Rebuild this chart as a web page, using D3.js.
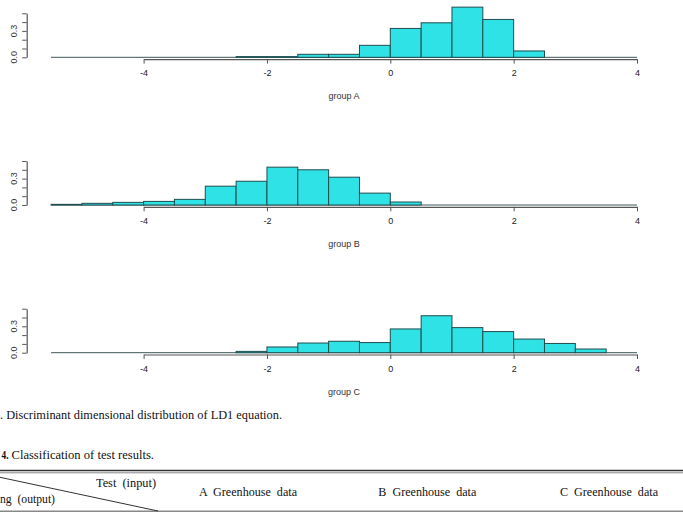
<!DOCTYPE html>
<html>
<head>
<meta charset="utf-8">
<script src="https://cdn.jsdelivr.net/npm/d3@7"></script>
<style>
  body { margin: 0; background: #fff; }
  svg { display: block; }
</style>
</head>
<body>
<svg class="ldaHists" width="683" height="516"></svg>
<script>
// left edges of the histogram bins (width 0.5)
const binLefts = [-5.5, -5, -4.5, -4, -3.5, -3, -2.5, -2, -1.5, -1, -0.5, 0, 0.5, 1, 1.5, 2, 2.5, 3, 3.5];
const binWidth = 0.5;

// densities
const densA = [0, 0, 0, 0, 0, 0, 0.008, 0.008, 0.034, 0.034, 0.136, 0.328, 0.392, 0.57, 0.43, 0.072, 0, 0, 0];
const densB = [0.0075, 0.019, 0.03, 0.041, 0.064, 0.214, 0.27, 0.43, 0.40, 0.316, 0.135, 0.034, 0, 0, 0, 0, 0, 0, 0];
const densC = [0, 0, 0, 0, 0, 0, 0.015, 0.065, 0.11, 0.13, 0.115, 0.27, 0.42, 0.285, 0.24, 0.155, 0.105, 0.042, 0];

const groupNames = ['group A', 'group B', 'group C'];
const xTicks = [-4, -2, 0, 2, 4];
const yTicks = [0, 0.1, 0.2, 0.3, 0.4, 0.5];
const yLabelled = [0, 0.3];

const captionFig = '. Discriminant dimensional distribution of LD1 equation.';
const captionTabNum = '4.';
const captionTab = 'Classification of test results.';
const tableCols = ['A  Greenhouse  data', 'B  Greenhouse  data', 'C  Greenhouse  data'];
const cornerTop = 'Test  (input)';
const cornerBottom = 'ng  (output)';

const svg = d3.select('svg.ldaHists');

const x = d3.scaleLinear()
            .domain([-4, 4])
            .range([143.6, 637]);

const baselines = [57.3, 205, 352.7];
const panelH = 44;

const fillCol = '#2fe2e5',
      edgeCol = '#1f4d4f',
      axisCol = '#555';

function drawPanel(dens, name, base){
  const y = d3.scaleLinear()
              .domain([0, 0.5])
              .range([base, base - panelH]);

  const g = svg.append('g');

  // x axis, just under the bars
  const xa = g.append('g')
    .attr('transform', `translate(0, ${base + 1.8})`)
    .call(d3.axisBottom(x).tickValues(xTicks).tickSize(4.5).tickSizeOuter(0));
  xa.select('.domain').attr('stroke', axisCol).attr('stroke-width', 1.2);
  xa.selectAll('line').attr('stroke', axisCol);
  xa.selectAll('text')
    .attr('y', 11)
    .attr('fill', '#222')
    .style('font-family', "'Liberation Sans', Arial, sans-serif")
    .style('font-size', '9px')
    .text(d => d < 0 ? '-' + Math.abs(d) : d);

  // zero-height bins still leave their bottom edge
  g.append('line')
    .attr('x1', x(binLefts[0]))
    .attr('x2', x(binLefts[binLefts.length - 1] + binWidth))
    .attr('y1', y(0))
    .attr('y2', y(0))
    .attr('stroke', '#3d5556')
    .attr('stroke-width', 1);

  g.selectAll('rect')
    .data(dens.map((d, i) => ({d, i})).filter(o => o.d > 0))
    .enter()
    .append('rect')
      .attr('x', o => x(binLefts[o.i]))
      .attr('y', o => y(o.d))
      .attr('width', o => x(binLefts[o.i] + binWidth) - x(binLefts[o.i]))
      .attr('height', o => y(0) - y(o.d))
      .style('fill', fillCol)
      .style('stroke', edgeCol)
      .style('stroke-width', 1);

  // y axis on the left
  const ya = g.append('g')
    .attr('transform', 'translate(26.7, 0)')
    .call(d3.axisLeft(y).tickValues(yTicks).tickSize(4.5).tickSizeOuter(0).tickFormat(''));
  ya.select('.domain').attr('stroke', axisCol).attr('stroke-width', 1.2);
  ya.selectAll('line').attr('stroke', axisCol);

  g.selectAll('text.ylab')
    .data(yLabelled)
    .enter()
    .append('text')
      .attr('class', 'ylab')
      .attr('transform', d => `translate(16.5, ${y(d)}) rotate(-90)`)
      .attr('text-anchor', 'middle')
      .attr('fill', '#333')
      .style('font-family', "'Liberation Sans', Arial, sans-serif")
      .style('font-size', '9px')
      .text(d => d.toFixed(1));

  g.append('text')
    .attr('x', x(-0.75))
    .attr('y', base + 42)
    .attr('text-anchor', 'middle')
    .attr('fill', '#333')
    .style('font-family', "'Liberation Sans', Arial, sans-serif")
    .style('font-size', '9px')
    .text(name);
}

drawPanel(densA, groupNames[0], baselines[0]);
drawPanel(densB, groupNames[1], baselines[1]);
drawPanel(densC, groupNames[2], baselines[2]);

// captions and table header below the figure
const serif = "'Liberation Serif', 'Times New Roman', serif";

svg.append('text')
  .attr('x', 0)
  .attr('y', 419)
  .attr('textLength', 282)
  .attr('lengthAdjust', 'spacingAndGlyphs')
  .style('font-family', serif)
  .style('font-size', '13px')
  .attr('fill', '#111')
  .text(captionFig);

svg.append('text')
  .attr('x', 1.5)
  .attr('y', 459)
  .attr('textLength', 7)
  .attr('lengthAdjust', 'spacingAndGlyphs')
  .style('font-family', serif)
  .style('font-size', '13px')
  .style('font-weight', 'bold')
  .attr('fill', '#111')
  .text(captionTabNum);
svg.append('text')
  .attr('x', 11.5)
  .attr('y', 459)
  .attr('textLength', 142.5)
  .attr('lengthAdjust', 'spacingAndGlyphs')
  .style('font-family', serif)
  .style('font-size', '13px')
  .attr('fill', '#111')
  .text(captionTab);

svg.append('line')
  .attr('x1', 0).attr('x2', 683).attr('y1', 470.5).attr('y2', 470.5)
  .attr('stroke', '#333').attr('stroke-width', 1.3);
svg.append('line')
  .attr('x1', 0).attr('x2', 683).attr('y1', 472.8).attr('y2', 472.8)
  .attr('stroke', '#888').attr('stroke-width', 1);
svg.append('line')
  .attr('x1', 0).attr('x2', 683).attr('y1', 511.3).attr('y2', 511.3)
  .attr('stroke', '#888').attr('stroke-width', 1.6);
svg.append('line')
  .attr('x1', 0).attr('y1', 477.3).attr('x2', 158).attr('y2', 511)
  .attr('stroke', '#333').attr('stroke-width', 1);

svg.append('text')
  .attr('x', 96).attr('y', 487)
  .attr('textLength', 60).attr('lengthAdjust', 'spacingAndGlyphs')
  .style('white-space', 'pre')
  .style('font-family', serif).style('font-size', '12.5px').attr('fill', '#111')
  .text(cornerTop);
svg.append('text')
  .attr('x', 0).attr('y', 503)
  .attr('textLength', 55).attr('lengthAdjust', 'spacingAndGlyphs')
  .style('white-space', 'pre')
  .style('font-family', serif).style('font-size', '12.5px').attr('fill', '#111')
  .text(cornerBottom);

const colX = [199, 378.3, 560];
svg.selectAll('text.col')
  .data(tableCols)
  .enter()
  .append('text')
    .attr('class', 'col')
    .attr('x', (d, i) => colX[i])
    .attr('y', 495.5)
    .attr('textLength', 98)
    .attr('lengthAdjust', 'spacingAndGlyphs')
    .style('white-space', 'pre')
    .style('font-family', serif)
    .style('font-size', '12.5px')
    .attr('fill', '#111')
    .text(d => d);
</script>
</body>
</html>
